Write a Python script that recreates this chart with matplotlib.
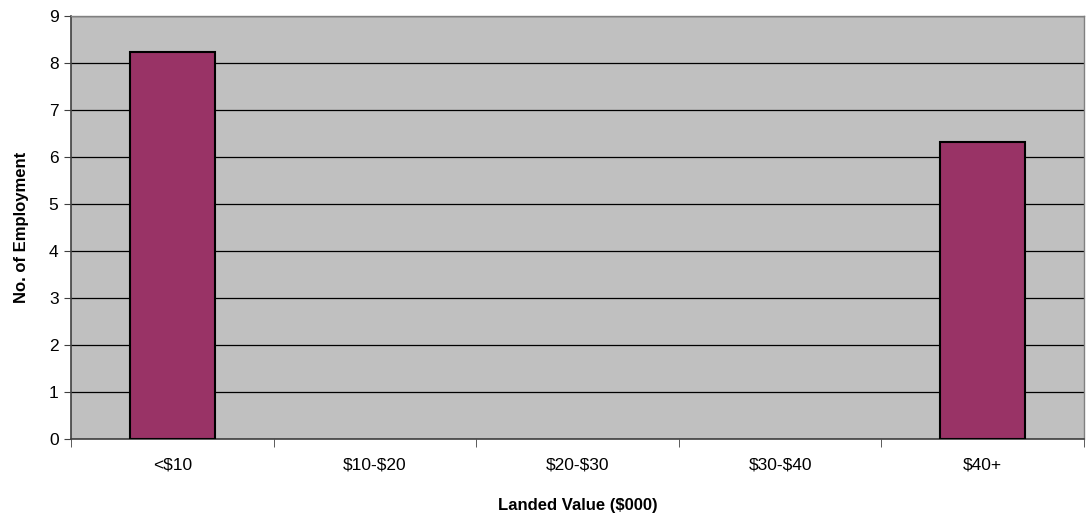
import matplotlib
matplotlib.use("Agg")
import matplotlib.pyplot as plt
import numpy as np

categories = ["<$10", "$10-$20", "$20-$30", "$30-$40", "$40+"]
values = [8.23, 0, 0, 0, 6.32]
y_ticks = list(range(0, 10))

plt.rcParams['font.family'] = ['Liberation Sans', 'DejaVu Sans']
plt.rcParams['text.parse_math'] = False

fig = plt.figure(figsize=(10.86, 5.23), dpi=100)
ax = fig.add_axes([71/1086, 1 - 439/523, (1084-71)/1086, (439-16)/523])
ax.set_facecolor('#C0C0C0')

x = np.arange(len(categories))
lws = [1.5 if v > 0 else 0 for v in values]
ax.bar(x, values, width=0.42, color='#993366', edgecolor='black', linewidth=lws, zorder=3)

ax.set_xlim(-0.5, len(categories) - 0.5)
ax.set_ylim(0, 9)
ax.set_yticks(y_ticks)
ax.yaxis.grid(True, color='black', linewidth=0.9, zorder=1)
ax.set_axisbelow(True)

ax.set_xticks(x)
ax.set_xticklabels(categories, fontsize=12.5)
ax.tick_params(axis='x', length=0, pad=13)
ax.set_xticks(np.arange(-0.5, len(categories) + 0.5, 1), minor=True)
ax.tick_params(axis='x', which='minor', length=6, direction='out', color='#404040')
ax.tick_params(axis='y', labelsize=12.5, length=5, direction='out', color='#404040', pad=4)

for side in ['top', 'right']:
    ax.spines[side].set_color('#808080')
    ax.spines[side].set_linewidth(1)
ax.spines['left'].set_color('#404040')
ax.spines['bottom'].set_color('#404040')
ax.spines['left'].set_linewidth(1.2)
ax.spines['bottom'].set_linewidth(1.2)

ax.set_xlabel("Landed Value ($000)", fontsize=12, fontweight='bold', labelpad=19)
ax.set_ylabel("No. of Employment", fontsize=12, fontweight='bold', labelpad=14)

fig.savefig("out.png", dpi=100)
